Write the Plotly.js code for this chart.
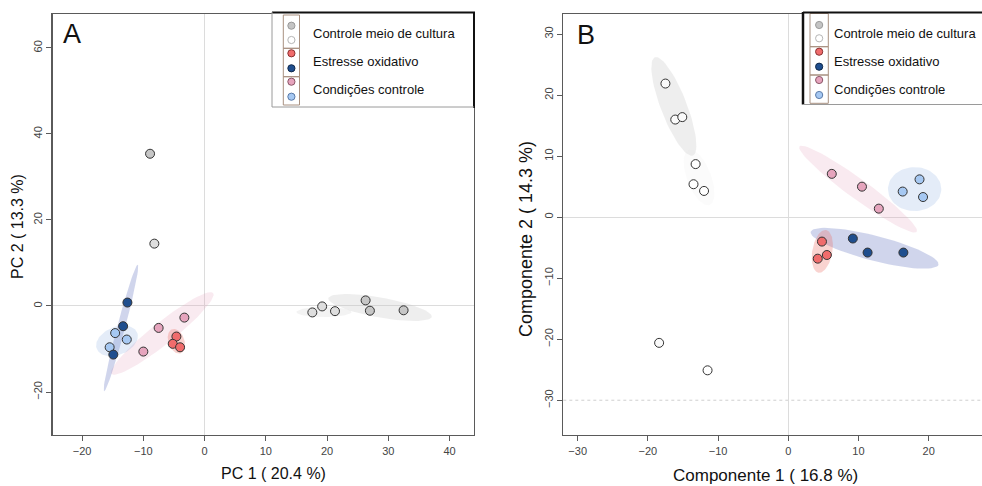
<!DOCTYPE html>
<html>
<head>
<meta charset="utf-8">
<script src="https://cdn.plot.ly/plotly-3.0.1.min.js"></script>
<style>html,body{margin:0;padding:0;background:#fff;overflow:hidden}</style>
</head>
<body>
<div id="chart" style="width:982px;height:486px"></div>
<script>
// ---------- data ----------
const groupNames = ["Controle meio de cultura", "Estresse oxidativo", "Condições controle"];

// Panel A : PC 1 ( 20.4 %) vs PC 2 ( 13.3 %)
const aGrayX  = [-8.9, 26.3, 27.0, 32.5];
const aGrayY  = [35.4, 1.3, -1.1, -1.0];
const aWhiteX = [-8.2, 17.6, 19.2, 21.3];
const aWhiteY = [14.5, -1.5, -0.1, -1.2];
const aRedX   = [-4.6, -5.2, -4.0];
const aRedY   = [-7.1, -8.8, -9.6];
const aNavyX  = [-12.6, -13.3, -14.9];
const aNavyY  = [0.8, -4.7, -11.3];
const aPinkX  = [-3.3, -7.5, -10.0];
const aPinkY  = [-2.7, -5.1, -10.6];
const aSkyX   = [-14.6, -12.7, -15.5];
const aSkyY   = [-6.3, -7.8, -9.6];

// Panel B : Componente 1 ( 16.8 %) vs Componente 2 ( 14.3 %)
const bGrayX  = [-17.5, -16.1, -15.1, -18.4];
const bGrayY  = [21.9, 16.0, 16.4, -20.6];
const bWhiteX = [-13.2, -13.5, -12.0, -11.5];
const bWhiteY = [8.7, 5.4, 4.3, -25.1];
const bRedX   = [4.8, 5.5, 4.2];
const bRedY   = [-4.0, -6.2, -6.8];
const bNavyX  = [9.2, 11.3, 16.4];
const bNavyY  = [-3.5, -5.8, -5.8];
const bPinkX  = [6.2, 10.5, 12.9];
const bPinkY  = [7.1, 5.0, 1.4];
const bSkyX   = [16.3, 18.7, 19.2];
const bSkyY   = [4.2, 6.2, 3.3];

// group ellipses: major-axis end points (data units)
const aEllGrayL  = [15.0, -1.4, 24.0, -1.4];
const aEllGrayR  = [20.2, 1.8, 37.1, -2.5];
const aEllNavy   = [-10.9, 9.6, -16.4, -19.8];
const aEllSky    = [-17.6, -10.0, -11.0, -6.2];
const aEllPink   = [1.4, 3.0, -15.2, -15.8];
const aEllRed    = [-5.3, -5.4, -3.9, -11.0];
const bEllGray   = [-19.0, 26.2, -13.6, 10.1];
const bEllWhite  = [-14.2, 11.0, -11.2, 2.0];
const bEllPink   = [1.6, 11.6, 18.3, -2.4];
const bEllSky    = [14.2, 4.6, 21.8, 4.6];
const bEllNavy   = [3.2, -2.4, 21.4, -7.8];
const bEllRed    = [5.4, -2.1, 4.3, -9.1];

const xTicksA = [-20, -10, 0, 10, 20, 30, 40];
const yTicksA = [-20, 0, 20, 40, 60];
const xTicksB = [-30, -20, -10, 0, 10, 20];
const yTicksB = [-30, -20, -10, 0, 10, 20, 30];

// ---------- layout geometry ----------
const W = 982, H = 486;
const A = {l: 52.7, r: 474, t: 14, b: 435, xr: [-24.8, 44.0], yr: [-30.0, 67.9]};
const B = {l: 563.3, r: 982, t: 14, b: 435, xr: [-32.05, 27.6], yr: [-35.7, 33.3]};
const px = x => x / W, py = y => 1 - y / H;

function scales(P) {
  return {sx: (P.r - P.l) / (P.xr[1] - P.xr[0]), sy: (P.b - P.t) / (P.yr[1] - P.yr[0])};
}

function ellipse(e, hw, P, xa, ya, fill) {
  const {sx, sy} = scales(P);
  const X1 = e[0] * sx, Y1 = e[1] * sy, X2 = e[2] * sx, Y2 = e[3] * sy;
  const cx = (X1 + X2) / 2, cy = (Y1 + Y2) / 2;
  const ax = (X2 - X1) / 2, ay = (Y2 - Y1) / 2;
  const L = Math.hypot(ax, ay);
  const bx = -ay / L * hw, by = ax / L * hw;
  const xs = [], ys = [];
  for (let i = 0; i <= 72; i++) {
    const t = i / 72 * 2 * Math.PI;
    xs.push((cx + Math.cos(t) * ax + Math.sin(t) * bx) / sx);
    ys.push((cy + Math.cos(t) * ay + Math.sin(t) * by) / sy);
  }
  return {x: xs, y: ys, xaxis: xa, yaxis: ya, mode: 'lines', fill: 'toself',
          fillcolor: fill, line: {width: 0, color: 'rgba(0,0,0,0)'}, hoverinfo: 'skip', showlegend: false};
}

function pts(x, y, xa, ya, fill, name) {
  return {x: x, y: y, xaxis: xa, yaxis: ya, mode: 'markers', name: name, showlegend: false,
          marker: {size: 9, color: fill, line: {color: '#333', width: 1}}};
}

const cGrayE = 'rgba(200,200,200,0.3)';
const cPinkE = 'rgba(225,150,180,0.2)';
const cNavyE = 'rgba(60,80,175,0.24)';
const cSkyE  = 'rgba(120,160,220,0.2)';
const cRedE  = 'rgba(235,110,100,0.3)';

const data = [
  ellipse(aEllGrayL, 5, A, 'x', 'y', 'rgba(200,200,200,0.22)'),
  ellipse(aEllGrayR, 10, A, 'x', 'y', cGrayE),
  ellipse(aEllPink, 11, A, 'x', 'y', cPinkE),
  ellipse(aEllNavy, 4, A, 'x', 'y', cNavyE),
  ellipse(aEllSky, 14, A, 'x', 'y', cSkyE),
  ellipse(aEllRed, 8, A, 'x', 'y', cRedE),
  ellipse(bEllGray, 13, B, 'x2', 'y2', cGrayE),
  ellipse(bEllWhite, 12, B, 'x2', 'y2', 'rgba(220,220,220,0.12)'),
  ellipse(bEllPink, 10, B, 'x2', 'y2', cPinkE),
  ellipse(bEllSky, 22, B, 'x2', 'y2', cSkyE),
  ellipse(bEllNavy, 12.5, B, 'x2', 'y2', cNavyE),
  ellipse(bEllRed, 10, B, 'x2', 'y2', cRedE),
  pts(aGrayX, aGrayY, 'x', 'y', '#c6c6c6', groupNames[0]),
  pts(aWhiteX, aWhiteY, 'x', 'y', '#dedede', groupNames[0]),
  pts(aPinkX, aPinkY, 'x', 'y', '#e6a4bd', groupNames[2]),
  pts(aSkyX, aSkyY, 'x', 'y', '#a6c8f2', groupNames[2]),
  pts(aNavyX, aNavyY, 'x', 'y', '#1f4e8e', groupNames[1]),
  pts(aRedX, aRedY, 'x', 'y', '#f06c6c', groupNames[1]),
  pts(bGrayX, bGrayY, 'x2', 'y2', '#fafafa', groupNames[0]),
  pts(bWhiteX, bWhiteY, 'x2', 'y2', '#ffffff', groupNames[0]),
  pts(bPinkX, bPinkY, 'x2', 'y2', '#e6a4bd', groupNames[2]),
  pts(bSkyX, bSkyY, 'x2', 'y2', '#a6c8f2', groupNames[2]),
  pts(bNavyX, bNavyY, 'x2', 'y2', '#1f4e8e', groupNames[1]),
  pts(bRedX, bRedY, 'x2', 'y2', '#f06c6c', groupNames[1])
];

const font = 'Liberation Sans, Arial, sans-serif';
function axis(dom, range, ticks, isY, anchor) {
  return {domain: dom, range: range, anchor: anchor, tickmode: 'array', tickvals: ticks,
          showgrid: false, zeroline: true, zerolinecolor: '#dcdcdc', zerolinewidth: 1,
          showline: true, mirror: true, linecolor: '#5a5a5a', linewidth: 1.3,
          ticks: 'outside', ticklen: 5, tickcolor: '#5a5a5a', tickwidth: 1,
          tickangle: isY ? -90 : 0, tickfont: {family: font, size: 11, color: '#444'}, fixedrange: true};
}

const layout = {
  width: W, height: H, margin: {l: 0, r: 0, t: 0, b: 0},
  paper_bgcolor: '#fff', plot_bgcolor: '#fff', showlegend: false,
  xaxis: axis([px(A.l), px(A.r)], A.xr, xTicksA, false, 'y'),
  yaxis: axis([py(A.b), py(A.t)], A.yr, yTicksA, true, 'x'),
  xaxis2: axis([px(B.l), 1], B.xr, xTicksB, false, 'y2'),
  yaxis2: axis([py(B.b), py(B.t)], B.yr, yTicksB, true, 'x2'),
  shapes: [], annotations: []
};
layout.shapes.push({type: 'line', xref: 'x2 domain', yref: 'y2', x0: 0, x1: 1, y0: -30, y1: -30,
  line: {color: '#cfcfcf', width: 1, dash: 'dot'}, layer: 'below'});

function ann(text, x, y, size, opts) {
  layout.annotations.push(Object.assign({text: text, xref: 'paper', yref: 'paper', x: px(x), y: py(y),
    showarrow: false, font: {family: font, size: size, color: '#111'}, xanchor: 'center', yanchor: 'middle'}, opts || {}));
}
function line(x0, y0, x1, y1, color, w) {
  layout.shapes.push({type: 'line', xref: 'paper', yref: 'paper', x0: px(x0), y0: py(y0), x1: px(x1), y1: py(y1),
    line: {color: color, width: w}, layer: 'above'});
}
function rect(x0, y0, x1, y1, fill, color, w) {
  layout.shapes.push({type: 'rect', xref: 'paper', yref: 'paper', x0: px(x0), y0: py(y0), x1: px(x1), y1: py(y1),
    fillcolor: fill, line: {color: color, width: w}, layer: 'above'});
}
function dot(cx, cy, fill, stroke) {
  const r = 3.6;
  layout.shapes.push({type: 'circle', xref: 'paper', yref: 'paper', x0: px(cx - r), x1: px(cx + r), y0: py(cy + r), y1: py(cy - r),
    fillcolor: fill, line: {color: stroke, width: 1}, layer: 'above'});
}

// panel letters
ann('A', 72, 34, 27);
ann('B', 586, 35, 27);
// axis titles
ann('PC 1 ( 20.4 %)', 273, 473, 16);
ann('PC 2 ( 13.3 %)', 18, 227, 16, {textangle: -90});
ann('Componente 1 ( 16.8 %)', 765, 475, 17);
ann('Componente 2 ( 14.3 %)', 526, 239, 18, {textangle: -90});

// legend builder
const legFill = [['#c4c4c4', '#ffffff'], ['#f06c6c', '#1f4e8e'], ['#e6a4bd', '#a6c8f2']];
const legStroke = [['#9a9a9a', '#b5b5b5'], ['#8a3030', '#10284a'], ['#8a5566', '#5a7aa8']];
function legend(box, col, rows, dotsY, textX, textY, sides) {
  rect(box[0], box[1], box[2], box[3], '#ffffff', 'rgba(0,0,0,0)', 0);
  for (let i = 0; i < 3; i++) {
    rect(col[0], rows[i], col[1], rows[i + 1], 'rgba(0,0,0,0)', '#a89080', 1);
    dot((col[0] + col[1]) / 2, dotsY[2 * i], legFill[i][0], legStroke[i][0]);
    dot((col[0] + col[1]) / 2, dotsY[2 * i + 1], legFill[i][1], legStroke[i][1]);
    ann(groupNames[i], textX, textY[i], 13, {xanchor: 'left'});
  }
  sides();
}
legend([272, 12, 474, 107], [283.3, 299.5], [15, 48.3, 76.7, 105], [25.7, 40, 53.3, 68.3, 81.7, 96.7],
  310.5, [33.3, 61.7, 90], () => {
    line(272, 12.5, 475, 12.5, '#111', 2);
    line(474, 12, 474, 108, '#111', 2);
    line(272, 12, 272, 107, '#9a9a9a', 1);
    line(272, 107, 474, 107, '#9a9a9a', 1);
  });
legend([803, 12, 982, 104.5], [810, 828.3], [13.5, 46.7, 75, 103.3], [25, 38.3, 51.7, 66.7, 80, 95],
  831.5, [33.3, 61.7, 90], () => {
    line(803, 12.5, 982, 12.5, '#111', 2);
    line(803, 12, 803, 104.5, '#111', 2.5);
    line(803, 104.5, 982, 104.5, '#9a9a9a', 1);
  });

Plotly.newPlot('chart', data, layout, {staticPlot: true, displayModeBar: false});
</script>
</body>
</html>
